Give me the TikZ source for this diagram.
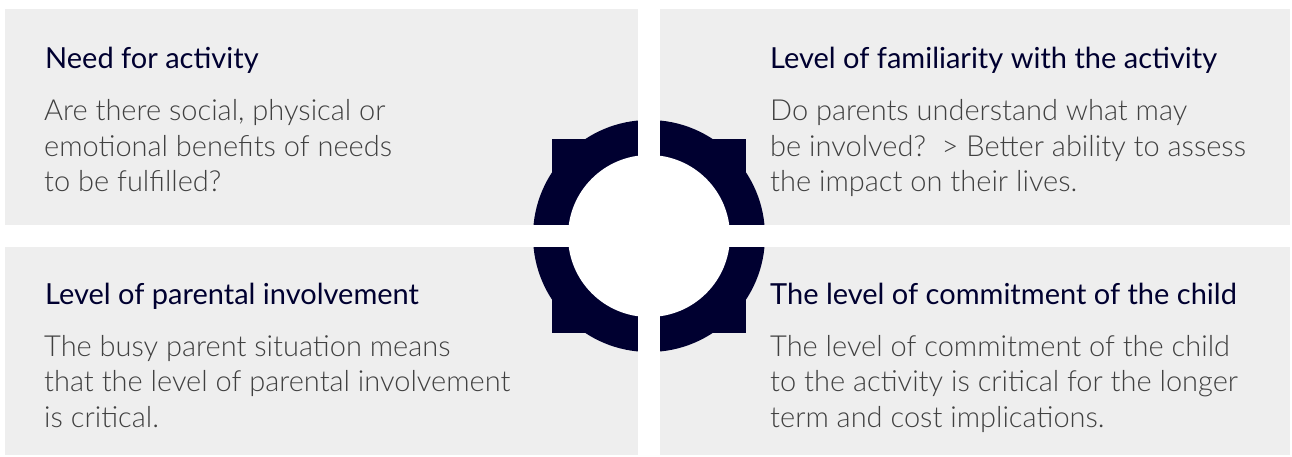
\documentclass[tikz,border=0pt]{standalone}
\usepackage{fontspec}
\setmainfont{Lato}
\IfFontExistsTF{Lato Light}{\newfontfamily\lightfont{Lato Light}}{\newfontfamily\lightfont{Lato}}

\definecolor{panelgray}{RGB}{238,238,238}
\definecolor{navy}{RGB}{0,0,48}
\definecolor{inkgray}{RGB}{64,64,64}

\tikzset{
  cardtitle/.style={anchor=base west,inner sep=0pt,text=navy,font=\fontsize{29}{33}\selectfont},
  cardtext/.style={anchor=base west,inner sep=0pt,text=inkgray,align=left,font=\lightfont\fontsize{29}{35.5}\selectfont}
}

\begin{document}
\begin{tikzpicture}[x=1pt,y=-1pt]
\useasboundingbox (0,0) rectangle (1292,457);
% grey panels
\foreach \xa/\ya/\xb/\yb in {5/9/638/225,660/9/1290/225,5/247/638/455,660/247/1290/455}
  \fill[panelgray] (\xa,\ya) rectangle (\xb,\yb);
% ring in the middle, cut in four by the gaps
\fill[navy] (649,236) circle[radius=116];
\fill[navy] (552,139) rectangle (746,333);
\fill[white] (649,236) circle[radius=81];
\fill[white] (638,100) rectangle (660,372);
\fill[white] (520,225) rectangle (778,247);
% texts (body nodes sit on the baseline of their last line)
\node[cardtitle] (needtitle) at (45,69) {Need for activity};
\node[cardtext] (needtext) at (44,192) {Are there social, physical or\\emotional benefits of needs\\to be fulfilled?};
\node[cardtitle] (famtitle) at (770,69) {Level of familiarity with the activity};
\node[cardtext] (famtext) at (770,192) {Do parents understand what may\\be involved?\ \ > Better ability to assess\\the impact on their lives.};
\node[cardtitle] (partitle) at (45,304) {Level of parental involvement};
\node[cardtext] (partext) at (44,427) {The busy parent situation means\\that the level of parental involvement\\is critical.};
\node[cardtitle] (comtitle) at (770,304) {The level of commitment of the child};
\node[cardtext] (comtext) at (770,427) {The level of commitment of the child\\to the activity is critical for the longer\\term and cost implications.};
\end{tikzpicture}
\end{document}
